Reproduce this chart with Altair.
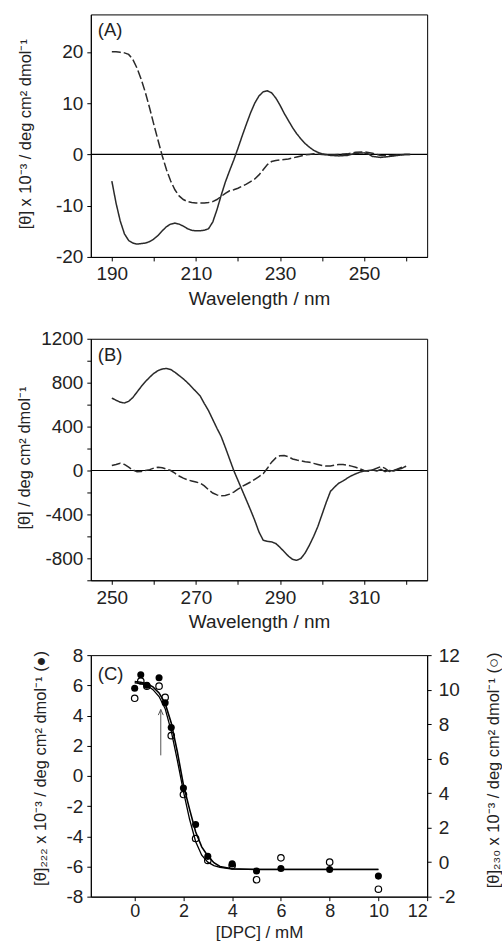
import altair as alt
import pandas as pd

FONT = "Liberation Sans"
INK = "#222222"
LINE = "#2a2a2a"

# ---------------- Panel A : far-UV CD ----------------
a_wl_solid = [190, 191, 192, 193, 194, 195, 196, 197, 198, 199, 200, 201, 202, 203, 204, 205,
              206, 207, 208, 209, 210, 211, 212, 213, 214, 215, 216, 217, 218, 219, 220, 221,
              222, 223, 224, 225, 226, 227, 228, 229, 230, 231, 232, 233, 234, 235, 236, 237,
              238, 239, 240, 242, 244, 246, 248, 250, 251, 252, 254, 256, 258, 260, 261]
a_solid = [-5.2, -9.5, -13.0, -15.5, -16.8, -17.3, -17.5, -17.4, -17.3, -17.0, -16.5, -15.8,
           -14.9, -14.1, -13.6, -13.4, -13.6, -14.0, -14.5, -14.8, -14.9, -14.9, -14.8, -14.5,
           -13.2, -10.8, -8.0, -5.4, -3.2, -1.1, 1.2, 3.6, 5.9, 8.1, 10.0, 11.4, 12.2, 12.4,
           12.0, 11.0, 9.6, 8.0, 6.6, 5.2, 4.0, 3.0, 2.1, 1.4, 0.8, 0.4, 0.1, -0.2, -0.3, -0.2,
           0.2, 0.3, 0.1, -0.4, -0.6, -0.4, -0.2, 0.0, 0.0]
a_wl_dash = [190, 191, 192, 193, 194, 195, 196, 197, 198, 199, 200, 201, 202, 203, 204, 205,
             206, 207, 208, 209, 210, 211, 212, 213, 214, 215, 216, 217, 218, 219, 220, 221,
             222, 223, 224, 225, 226, 227, 228, 229, 230, 231, 232, 233, 234, 235, 236, 237,
             238, 240, 242, 244, 246, 248, 250, 252, 254, 256, 258, 260, 261]
a_dash = [20.0, 20.0, 19.9, 19.8, 19.5, 18.5, 16.8, 14.6, 12.0, 9.0, 5.8, 2.7, -0.3, -3.0,
          -5.2, -6.9, -8.1, -8.8, -9.2, -9.4, -9.5, -9.5, -9.5, -9.4, -9.2, -8.8, -8.2, -7.6,
          -7.1, -6.9, -6.6, -6.2, -5.8, -5.3, -4.8, -4.0, -3.0, -2.0, -1.4, -1.2, -1.1, -1.0,
          -0.9, -0.7, -0.5, -0.3, -0.1, 0.0, 0.1, 0.0, -0.1, 0.0, 0.1, 0.4, 0.5, 0.2, -0.2,
          -0.3, -0.1, 0.0, 0.0]

# ---------------- Panel B : near-UV CD ----------------
b_wl_solid = list(range(250, 321))
b_solid = [660, 640, 622, 615, 630, 665, 715, 765, 810, 850, 885, 910, 925, 930, 920, 895,
           865, 835, 800, 760, 720, 680, 610, 545, 465, 385, 310, 210, 105, 0, -90, -180,
           -270, -360, -455, -560, -635, -645, -650, -665, -700, -740, -780, -810, -818,
           -800, -750, -680, -600, -510, -400, -290, -190, -150, -115, -95, -70, -48, -30,
           -15, -5, 0, 5, -5, 10, -10, 0, -5, 10, 20, 40]
b_wl_dash = list(range(250, 320))
b_dash = [45, 55, 66, 55, 30, 5, -12, -10, 0, 8, 22, 30, 25, 12, 0, -25, -50, -70, -85, -95,
          -105, -115, -140, -175, -205, -222, -230, -228, -215, -197, -170, -145, -125, -105,
          -80, -55, -30, 20, 76, 115, 135, 136, 125, 105, 95, 88, 80, 75, 65, 55, 45, 40, 42,
          48, 55, 55, 48, 40, 30, 15, 0, -6, 5, 20, 36, 20, -9, 0, 15, 30]

# ---------------- Panel C : DPC titration ----------------
dpc = [0, 0.25, 0.5, 1, 1.25, 1.5, 2, 2.5, 3, 4, 5, 6, 8, 10]
theta222 = [5.8, 6.7, 6.0, 6.5, 4.85, 3.2, -0.8, -3.22, -5.33, -5.83, -6.3, -6.13, -6.2, -6.64]
theta230 = [9.5, 10.5, 10.2, 10.2, 9.55, 7.33, 3.92, 1.37, 0.1, -0.2, -1.02, 0.25, 0.0, -1.57]
fit_x = [0, 0.25, 0.5, 0.75, 1, 1.25, 1.5, 1.75, 2, 2.25, 2.5, 2.75, 3, 3.25, 3.5, 4, 5, 6, 8, 10]
fit222 = [6.25, 6.2, 6.1, 5.9, 5.5, 4.8, 3.5, 1.6, -0.6, -2.2, -3.7, -4.7, -5.3, -5.75, -6.0,
          -6.15, -6.2, -6.2, -6.2, -6.2]
fit230 = [10.4, 10.35, 10.25, 10.0, 9.6, 8.9, 7.6, 5.9, 4.1, 2.5, 1.2, 0.4, 0.0, -0.2, -0.3,
          -0.4, -0.42, -0.42, -0.42, -0.42]
arrow_x = [1.07]
arrow_from = [1.36]
arrow_to = [4.4]

W = 337
HA, HB, HC = 243, 242, 242
YT = 16.5  # y-axis title size


def spacer(x, y1, y2):
    return alt.Chart(pd.DataFrame({"k": [0]})).mark_rule(color="white", strokeWidth=1).encode(
        x=alt.value(x), y=alt.value(y1), y2=alt.value(y2))


def panel_label(txt, dy):
    return alt.Chart(pd.DataFrame({"t": [txt]})).mark_text(
        align="left", baseline="middle", fontSize=18.5, font=FONT, color=INK
    ).encode(text="t:N", x=alt.value(7), y=alt.value(dy))


def num_label(mod=None, rem=0):
    base = "(datum.value < 0 ? '-' : '') + format(abs(datum.value), 'd')"
    if mod is None:
        return base
    return f"(abs(datum.value) % {mod} == {rem}) ? {base} : ''"


# ---------- A ----------
dfA = pd.concat([
    pd.DataFrame({"wl": a_wl_solid, "val": a_solid, "s": "solid"}),
    pd.DataFrame({"wl": a_wl_dash, "val": a_dash, "s": "dashed"}),
])
xA = alt.X("wl:Q", scale=alt.Scale(domain=[185, 265], nice=False, zero=False),
           axis=alt.Axis(values=list(range(190, 261, 10)), labelExpr=num_label(20, 10),
                         title="Wavelength / nm", titleY=42, titleBaseline="middle"))
yA_axis = alt.Axis(values=[-20, -10, 0, 10, 20], labelExpr=num_label(),
                   title="[θ] x 10⁻³ / deg cm² dmol⁻¹", titleFontSize=YT,
                   titleX=-65, titleY=HA / 2 - 2, titleBaseline="middle", titleAngle=270)
yA = alt.Y("val:Q", scale=alt.Scale(domain=[-20, 27.3], nice=False, zero=False), axis=yA_axis)

linesA = alt.Chart(dfA).mark_line(strokeWidth=1.5, color=LINE).encode(
    x=xA, y=yA,
    strokeDash=alt.StrokeDash("s:N", scale=alt.Scale(domain=["solid", "dashed"],
                                                      range=[[1, 0], [9, 3]]), legend=None),
    detail="s:N")
zeroA = alt.Chart(pd.DataFrame({"val": [0]})).mark_rule(color="black", strokeWidth=1.2).encode(y=yA)
chartA = alt.layer(zeroA, linesA, panel_label("(A)", 16),
                   spacer(-89.5, 0, 1), spacer(0, HA + 40, HA + 62)).properties(width=W, height=HA)

# ---------- B ----------
dfB = pd.concat([
    pd.DataFrame({"wl": b_wl_solid, "val": b_solid, "s": "solid"}),
    pd.DataFrame({"wl": b_wl_dash, "val": b_dash, "s": "dashed"}),
])
xB = alt.X("wl:Q", scale=alt.Scale(domain=[245, 325], nice=False, zero=False),
           axis=alt.Axis(values=list(range(250, 321, 10)), labelExpr=num_label(20, 10),
                         title="Wavelength / nm", titleY=41, titleBaseline="middle"))
yB_axis = alt.Axis(values=list(range(-1000, 1201, 200)), labelExpr=num_label(400, 0),
                   title="[θ] / deg cm² dmol⁻¹", titleFontSize=YT,
                   titleX=-66, titleY=HB / 2 - 2, titleBaseline="middle", titleAngle=270)
yB = alt.Y("val:Q", scale=alt.Scale(domain=[-1000, 1200], nice=False, zero=False), axis=yB_axis)
linesB = alt.Chart(dfB).mark_line(strokeWidth=1.5, color=LINE).encode(
    x=xB, y=yB,
    strokeDash=alt.StrokeDash("s:N", scale=alt.Scale(domain=["solid", "dashed"],
                                                      range=[[1, 0], [9, 3]]), legend=None),
    detail="s:N")
zeroB = alt.Chart(pd.DataFrame({"val": [0]})).mark_rule(color="black", strokeWidth=1.2).encode(y=yB)
chartB = alt.layer(zeroB, linesB, panel_label("(B)", 16),
                   spacer(0, -12, -1), spacer(0, HB + 40, HB + 55)).properties(width=W, height=HB)

# ---------- C ----------
xC = alt.X("x:Q", scale=alt.Scale(domain=[-1.8, 12], nice=False, zero=False),
           axis=alt.Axis(values=list(range(0, 13, 2)), labelExpr=num_label(),
                         labelFontSize=18, labelPadding=2,
                         title="[DPC] / mM", titleY=36, titleFontSize=17,
                         titleBaseline="middle"))
yL_axis = alt.Axis(values=list(range(-8, 9, 2)), labelExpr=num_label(), orient="left",
                   title="[θ]₂₂₂ x 10⁻³ / deg cm² dmol⁻¹ (●)", titleFontSize=YT,
                   titleX=-50, titleY=113, titleBaseline="middle", titleAngle=270)
yL = alt.Y("v:Q", scale=alt.Scale(domain=[-8, 8], nice=False, zero=False), axis=yL_axis)
yR_axis = alt.Axis(values=list(range(-2, 13, 2)), labelExpr=num_label(), orient="right",
                   labelPadding=7,
                   title="[θ]₂₃₀ x 10⁻³ / deg cm² dmol⁻¹ (○)", titleFontSize=YT,
                   titleX=66, titleY=115, titleBaseline="middle", titleAngle=270)
yR = alt.Y("v:Q", scale=alt.Scale(domain=[-2, 12], nice=False, zero=False), axis=yR_axis)

fitL = alt.Chart(pd.DataFrame({"x": fit_x, "v": fit222})).mark_line(
    color="black", strokeWidth=1.6).encode(x=xC, y=yL)
ptsL = alt.Chart(pd.DataFrame({"x": dpc, "v": theta222})).mark_point(
    shape="circle", filled=True, color="black", size=50, opacity=1).encode(x=xC, y=yL)
arrow = alt.Chart(pd.DataFrame({"x": arrow_x, "v": arrow_from, "v2": arrow_to})).mark_rule(
    color="#555555", strokeWidth=1).encode(x=xC, y=yL, y2="v2:Q")
head = alt.Chart(pd.DataFrame({"x": arrow_x, "v": arrow_to})).mark_point(
    shape="M-0.7,1.6L0,0L0.7,1.6", filled=False, color="#555555", size=50,
    strokeWidth=1, opacity=1).encode(x=xC, y=yL)
leftC = alt.layer(fitL, arrow, head, ptsL, panel_label("(C)", 19), spacer(0, -12, -1))

fitR = alt.Chart(pd.DataFrame({"x": fit_x, "v": fit230})).mark_line(
    color="black", strokeWidth=1.3).encode(x=xC, y=yR)
ptsR = alt.Chart(pd.DataFrame({"x": dpc, "v": theta230})).mark_point(
    shape="circle", filled=False, color="black", size=42, strokeWidth=1.2, opacity=1).encode(x=xC, y=yR)
rightC = alt.layer(fitR, ptsR)

chartC = alt.layer(leftC, rightC).resolve_scale(y="independent").properties(width=W, height=HC)

chart = alt.vconcat(chartA, chartB, chartC, spacing=6).properties(
    padding={"left": 0, "top": 12.5, "right": 0, "bottom": 0}
).configure_view(
    stroke="black", strokeWidth=1
).configure_axis(
    labelFont=FONT, titleFont=FONT, labelFontSize=19, titleFontSize=19,
    titleFontWeight="normal", labelColor=INK, titleColor=INK,
    domainColor="black", tickColor="black", tickSize=4, tickWidth=1, domainWidth=1,
    labelPadding=4, grid=False
).configure_text(font=FONT)

chart.save("out.html", embed_options={"renderer": "svg", "actions": False})
